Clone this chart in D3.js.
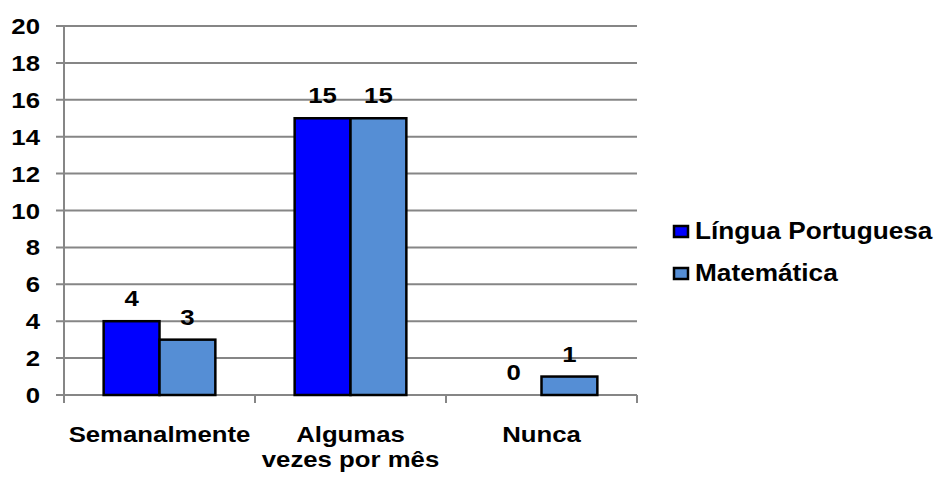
<!DOCTYPE html>
<html>
<head>
<meta charset="utf-8">
<script src="https://cdn.jsdelivr.net/npm/d3@7"></script>
<style>
  body { margin: 0; background: #fff; }
  text { font-family: "Liberation Sans", Arial, sans-serif; font-weight: bold; fill: #000; }
</style>
</head>
<body>
<svg id="chart" width="935" height="478"></svg>
<script>
// Chart data
const categories = [["Semanalmente"], ["Algumas", "vezes por mês"], ["Nunca"]];
const seriesNames = ["Língua Portuguesa", "Matemática"];
const portugues = [4, 15, 0];
const matematica = [3, 15, 1];
const yTicks = [0, 2, 4, 6, 8, 10, 12, 14, 16, 18, 20];
const colors = ["#0000FF", "#558ED5"];

const svg = d3.select("#chart");
const plotLeft = 64, plotRight = 637, plotTop = 26, plotBottom = 395;
const fontSize = 23, stretch = 1.12;
// Places a text element at (x, y) with the wide label lettering
const place = (x, y, k = stretch) => `translate(${x},${y}) scale(${k},1)`;

const x0 = d3.scaleBand().domain(d3.range(categories.length)).range([plotLeft, plotRight]).paddingInner(0).paddingOuter(0);
const x1 = d3.scaleBand().domain(d3.range(seriesNames.length)).range([0, x0.bandwidth()]).paddingInner(0).paddingOuter(0.71);
const y = d3.scaleLinear().domain([0, 20]).range([plotBottom, plotTop]);

// Gridlines
svg.append("g").selectAll("line").data(yTicks).join("line")
  .attr("x1", plotLeft - 8).attr("x2", plotRight)
  .attr("y1", d => y(d)).attr("y2", d => y(d))
  .attr("stroke", "#868686").attr("stroke-width", 2);

// Y axis line
svg.append("line").attr("x1", plotLeft).attr("x2", plotLeft).attr("y1", plotTop).attr("y2", plotBottom + 1)
  .attr("stroke", "#868686").attr("stroke-width", 2);

// Y tick labels
svg.append("g").selectAll("text").data(yTicks).join("text")
  .attr("transform", d => place(40, y(d))).attr("dy", "0.35em")
  .attr("text-anchor", "end").attr("font-size", fontSize)
  .text(d => d);

// Category tick marks
svg.append("g").selectAll("line").data(d3.range(categories.length + 1)).join("line")
  .attr("x1", i => plotLeft + i * x0.bandwidth()).attr("x2", i => plotLeft + i * x0.bandwidth())
  .attr("y1", plotBottom).attr("y2", plotBottom + 8)
  .attr("stroke", "#868686").attr("stroke-width", 2);

// Bars and value labels
const series = [portugues, matematica];
series.forEach((vals, s) => {
  const g = svg.append("g");
  const rows = vals.map((v, i) => ({v, i}));
  g.selectAll("rect").data(rows.filter(d => d.v > 0)).join("rect")
    .attr("x", d => x0(d.i) + x1(s))
    .attr("width", x1.bandwidth())
    .attr("y", d => y(d.v))
    .attr("height", d => y(0) - y(d.v))
    .attr("fill", colors[s])
    .attr("stroke", "#000").attr("stroke-width", 2.5);
  g.selectAll("text").data(rows).join("text")
    .attr("transform", d => place(x0(d.i) + x1(s) + x1.bandwidth() / 2, y(d.v) - 15))
    .attr("text-anchor", "middle").attr("font-size", fontSize)
    .text(d => d.v);
});

// Category labels
svg.append("g").selectAll("text").data(categories).join("text")
  .attr("text-anchor", "middle").attr("font-size", fontSize)
  .attr("transform", (d, i) => place(x0(i) + x0.bandwidth() / 2, 442))
  .selectAll("tspan").data(d => d).join("tspan")
  .attr("x", 0)
  .attr("dy", (d, j) => j === 0 ? 0 : 25)
  .text(d => d);

// Legend
const legend = svg.append("g").selectAll("g").data(seriesNames).join("g")
  .attr("transform", (d, i) => `translate(674, ${226 + i * 42})`);
legend.append("rect").attr("width", 14).attr("height", 11)
  .attr("fill", (d, i) => colors[i]).attr("stroke", "#000").attr("stroke-width", 2.5);
legend.append("text").attr("transform", place(21, 12.5, 1.14))
  .attr("font-size", fontSize).text(d => d);
</script>
</body>
</html>
